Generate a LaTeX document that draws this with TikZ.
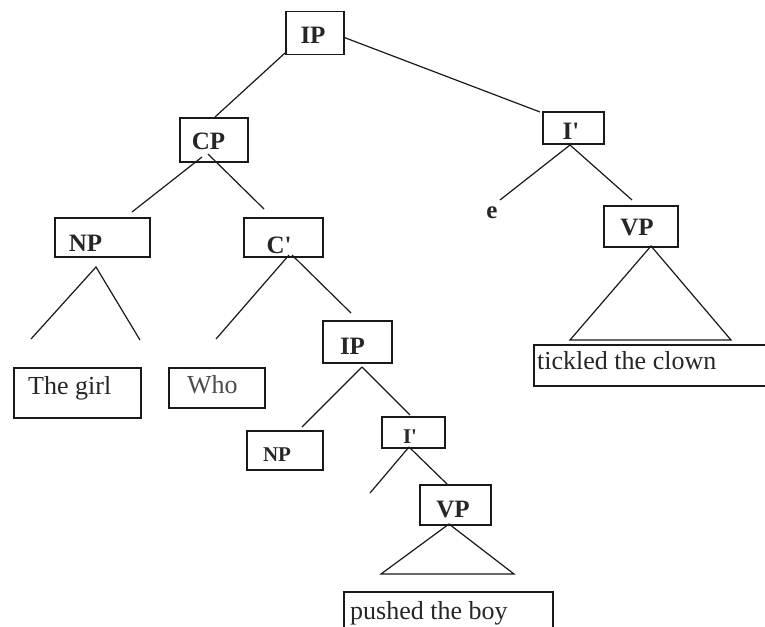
\documentclass[tikz,border=0pt]{standalone}
\usepackage{fontspec}
\setmainfont{Liberation Serif}[Ligatures=TeXOff]
\begin{document}
\begin{tikzpicture}[x=1pt,y=-1pt,
  box/.style={draw=black!90, line width=1.5pt, inner sep=0pt, anchor=north west},
  cat/.style={font=\fontsize{25}{28}\selectfont\bfseries, text=black!85, inner sep=0pt, anchor=base},
  smallcat/.style={font=\fontsize{21}{24}\selectfont\bfseries, text=black!85, inner sep=0pt, anchor=base},
  word/.style={font=\fontsize{26}{30}\selectfont, text=black!85, inner sep=0pt, anchor=base west},
  edge/.style={line width=1.2pt, black!90}]
\useasboundingbox (0,0) rectangle (765,626);
\clip (0,0) rectangle (765,626);
\fill[white] (0,0) rectangle (765,626);

% boxes
\node[box, minimum width=58pt, minimum height=43pt] (ipbox) at (285,11) {};
\node[box, minimum width=68pt, minimum height=44pt] (cpbox) at (179,117) {};
\node[box, minimum width=95pt, minimum height=39pt] (npbox) at (54,217) {};
\node[box, minimum width=79pt, minimum height=39pt] (cbbox) at (243,217) {};
\node[box, minimum width=61pt, minimum height=32pt] (ibbox) at (542,111) {};
\node[box, minimum width=74pt, minimum height=41pt] (vpbox) at (603,205) {};
\node[box, minimum width=127pt, minimum height=50pt] (girlbox) at (13,367) {};
\node[box, minimum width=96pt, minimum height=40pt] (whobox) at (168,367) {};
\node[box, minimum width=69pt, minimum height=42pt] (ip2box) at (322,320) {};
\node[box, minimum width=76pt, minimum height=39pt] (np2box) at (246,430) {};
\node[box, minimum width=63pt, minimum height=31pt] (ib2box) at (381,416) {};
\node[box, minimum width=71pt, minimum height=40pt] (vp2box) at (419,484) {};
\node[box, minimum width=240pt, minimum height=41pt] (ticklebox) at (533,344) {};
\node[box, minimum width=209pt, minimum height=60pt] (pushbox) at (343,591) {};

% labels
\node[cat] (ip) at (313,44) {IP};
\node[cat] (cp) at (208.5,149) {CP};
\node[cat] (np) at (85.5,251) {NP};
\node[cat] (cb) at (279,253) {C'};
\node[cat] (ib) at (571,139) {I'};
\node[cat] (vp) at (637,235) {VP};
\node[cat] (e) at (492,218) {e};
\node[cat] (ip2) at (352.5,354) {IP};
\node[smallcat] (np2) at (277,461) {NP};
\node[smallcat] (ib2) at (410,443) {I'};
\node[cat] (vp2) at (453,517) {VP};
\node[word] (girl) at (28,394) {The girl};
\node[word, text=black!70] (who) at (187,393) {Who};
\node[word] (tickle) at (537,369) {tickled the clown};
\node[word] (push) at (350,619) {pushed the boy};

% connector end points
\coordinate (ipL) at (285,53);
\coordinate (ipR) at (343,37);
\coordinate (cpT) at (215,117);
\coordinate (ibT) at (540,112);
\coordinate (cpBL) at (202,157);
\coordinate (cpBR) at (208,154);
\coordinate (npT) at (132,212);
\coordinate (cbT) at (264,209);
\coordinate (npA) at (96,267);
\coordinate (npL) at (31,339);
\coordinate (npR) at (140,340);
\coordinate (cbBL) at (289,255);
\coordinate (cbBR) at (292,255);
\coordinate (whoT) at (216,339);
\coordinate (ip2T) at (351,313);
\coordinate (ibB) at (570,145);
\coordinate (eT) at (500,200);
\coordinate (vpT) at (632,200);
\coordinate (vpA) at (651,246);
\coordinate (vpL) at (570,340);
\coordinate (vpR) at (731,340);
\coordinate (ip2B) at (362,367);
\coordinate (np2T) at (302,427);
\coordinate (ib2T) at (410,415);
\coordinate (ib2B) at (409,447);
\coordinate (ib2L) at (370,493);
\coordinate (vp2T) at (447,484);
\coordinate (vp2A) at (449,524);
\coordinate (vp2L) at (381,574);
\coordinate (vp2R) at (514,574);

% connectors
\draw[edge] (ipL) -- (cpT);
\draw[edge] (ipR) -- (ibT);
\draw[edge] (cpBL) -- (npT);
\draw[edge] (cpBR) -- (cbT);
\draw[edge] (npL) -- (npA) -- (npR);
\draw[edge] (cbBL) -- (whoT);
\draw[edge] (cbBR) -- (ip2T);
\draw[edge] (ibB) -- (eT);
\draw[edge] (ibB) -- (vpT);
\draw[edge] (vpA) -- (vpL) -- (vpR) -- cycle;
\draw[edge] (ip2B) -- (np2T);
\draw[edge] (ip2B) -- (ib2T);
\draw[edge] (ib2B) -- (ib2L);
\draw[edge] (ib2B) -- (vp2T);
\draw[edge] (vp2A) -- (vp2L) -- (vp2R) -- cycle;
\end{tikzpicture}
\end{document}
